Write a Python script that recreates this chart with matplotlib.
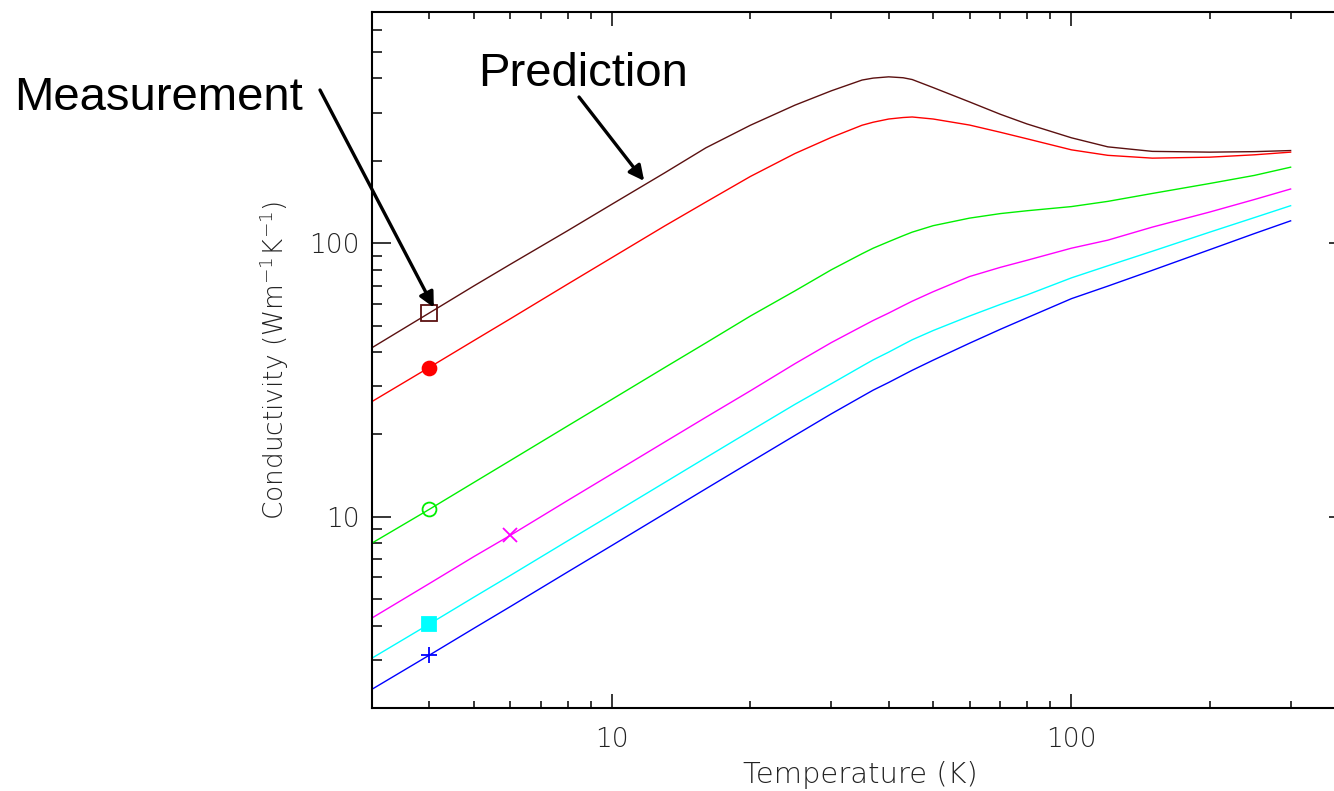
import matplotlib
matplotlib.use("Agg")
import matplotlib.pyplot as plt
from matplotlib import font_manager as fm
from matplotlib.ticker import LogLocator, NullFormatter, FuncFormatter

# ---------------- data ----------------
temperature = [3, 4, 5, 6, 8, 10, 13, 16, 20, 25, 30, 35, 37, 40, 43, 45, 50,
               60, 70, 80, 100, 120, 150, 200, 250, 300]

k_brown = [41.5, 55.6, 69.8, 83.7, 111.1, 139.0, 180.6, 223.2, 269.9, 319.6,
           360.6, 394.8, 401.3, 405.6, 402.5, 396.5, 370.5, 328.4, 296.0,
           272.9, 242.8, 225.0, 216.6, 215.2, 216.1, 218.1]
k_red = [26.38, 35.17, 44.06, 52.92, 70.86, 88.70, 115.5, 141.4, 175.4, 212.7,
         243.6, 269.9, 276.8, 284.4, 288.0, 289.3, 284.4, 270.3, 254.4, 240.8,
         219.4, 209.5, 204.6, 206.3, 210.4, 215.2]
k_green = [8.015, 10.65, 13.35, 16.05, 21.48, 26.90, 35.08, 43.21, 54.18,
           66.94, 79.95, 91.53, 95.87, 101.3, 106.5, 109.75, 115.9, 123.5,
           128.3, 131.4, 136.1, 142.2, 152.0, 165.3, 176.9, 189.6]
k_magenta = [4.267, 5.702, 7.152, 8.551, 11.47, 14.37, 18.74, 23.11, 28.88,
             36.27, 43.32, 49.68, 52.17, 55.55, 59.08, 61.37, 66.49, 75.54,
             81.6, 86.6, 95.9, 102.6, 114.5, 130.0, 144.4, 157.8]
k_cyan = [3.043, 4.056, 5.083, 6.100, 8.165, 10.22, 13.33, 16.45, 20.60,
          25.76, 30.64, 35.53, 37.46, 39.98, 42.63, 44.36, 47.95, 54.18,
          59.72, 64.71, 74.70, 82.69, 93.46, 109.75, 124.0, 137.1]
k_blue = [2.342, 3.121, 3.911, 4.694, 6.284, 7.866, 10.26, 12.66, 15.85,
          19.83, 23.78, 27.54, 29.03, 30.97, 32.98, 34.31, 37.37, 43.1, 48.44,
          53.38, 62.71, 69.69, 79.6, 94.7, 108.4, 120.7]

# measured points
meas_T = [4, 4, 4, 6, 4, 4]
meas_k = [55.8, 35.1, 10.65, 8.55, 4.06, 3.13]

x_label = "Temperature (K)"
y_label = r"Conductivity (Wm$^{-1}$K$^{-1}$)"

# ---------------- styles ----------------
colors = ["#5b1010", "#ff0000", "#00f000", "#ff00ff", "#00ffff", "#0000ff"]
markers = ["s", "o", "o", "x", "s", "+"]
filled = [False, True, False, True, True, True]
msizes = [11, 10, 10, 10, 10, 12]

# pick a light sans font if one is installed
light_family, light_weight, fsize = "DejaVu Sans", 400, 18
for name, size in [("DejaVu Sans", 19), ("Open Sans", 20), ("Lato", 20),
                   ("Roboto", 20), ("Noto Sans", 19)]:
    ws = []
    for f in fm.fontManager.ttflist:
        if f.name == name and f.style == "normal":
            w = f.weight
            if isinstance(w, str):
                w = fm.weight_dict.get(w, 400)
            ws.append(w)
    light = [w for w in ws if 200 <= w <= 300]
    if light:
        light_family, light_weight, fsize = name, max(light), size
        break

plt.rcParams["mathtext.fontset"] = "custom"
plt.rcParams["mathtext.rm"] = f"{light_family}:weight={light_weight}"
plt.rcParams["mathtext.default"] = "rm"

W, H = 1334, 791
fig = plt.figure(figsize=(W / 100, H / 100), dpi=100)
ax = fig.add_axes([372 / W, 83 / H, 976 / W, 696 / H])

series = [k_brown, k_red, k_green, k_magenta, k_cyan, k_blue]
for i, ks in enumerate(series):
    ax.plot(temperature, ks, color=colors[i], lw=1.0, zorder=2,
            solid_joinstyle="round")
    mfc = colors[i] if filled[i] else "none"
    ax.plot([meas_T[i]], [meas_k[i]], linestyle="none", marker=markers[i],
            ms=msizes[i], mfc=mfc, mec=colors[i], mew=1.3, zorder=3)

ax.set_xscale("log")
ax.set_yscale("log")
ax.set_xlim(3, 400)
ax.set_ylim(2, 700)

ax.xaxis.set_major_locator(LogLocator(base=10, numticks=10))
ax.yaxis.set_major_locator(LogLocator(base=10, numticks=10))
ax.xaxis.set_minor_locator(LogLocator(base=10, subs=range(2, 10), numticks=50))
ax.yaxis.set_minor_locator(LogLocator(base=10, subs=range(2, 10), numticks=50))
fmt = FuncFormatter(lambda v, p: "%g" % v)
ax.xaxis.set_major_formatter(fmt)
ax.yaxis.set_major_formatter(fmt)
ax.xaxis.set_minor_formatter(NullFormatter())
ax.yaxis.set_minor_formatter(NullFormatter())

for s in ax.spines.values():
    s.set_linewidth(1.5)
    s.set_color("black")

ax.tick_params(which="both", direction="in", top=True, right=True,
               color="black", width=1.1)
ax.tick_params(axis="x", which="major", length=10, pad=14)
ax.tick_params(axis="x", which="minor", length=5)
ax.tick_params(axis="y", which="major", length=14, pad=9)
ax.tick_params(axis="y", which="minor", length=7)

for lab in ax.get_xticklabels() + ax.get_yticklabels():
    lab.set_family([light_family, "DejaVu Sans"])
    lab.set_weight(light_weight)
    lab.set_fontsize(fsize)
    lab.set_color("#222222")

ax.set_xlabel(x_label, family=[light_family, "DejaVu Sans"], weight=light_weight,
              fontsize=fsize * 1.1, color="#222222", labelpad=6)
ax.set_ylabel(y_label, family=[light_family, "DejaVu Sans"], weight=light_weight,
              fontsize=fsize, color="#222222", labelpad=13)

# annotations
fig.text(14 / W, 1 - 110 / H, "Measurement", fontsize=34,
         family=["Liberation Sans", "DejaVu Sans"], va="baseline", ha="left")
fig.text(478 / W, 1 - 86 / H, "Prediction", fontsize=34,
         family=["Liberation Sans", "DejaVu Sans"], va="baseline", ha="left")

arrow = dict(arrowstyle="-|>,head_length=0.9,head_width=0.45", lw=2.4,
             color="black", shrinkA=0, shrinkB=0)
ax.annotate("", xy=(4.09, 58.2), xycoords="data",
            xytext=(320, H - 90), textcoords="figure pixels",
            arrowprops=arrow, annotation_clip=False)
ax.annotate("", xy=(11.74, 168.9), xycoords="data",
            xytext=(579, H - 97), textcoords="figure pixels",
            arrowprops=arrow, annotation_clip=False)

fig.savefig("out.png", dpi=100, facecolor="white")
